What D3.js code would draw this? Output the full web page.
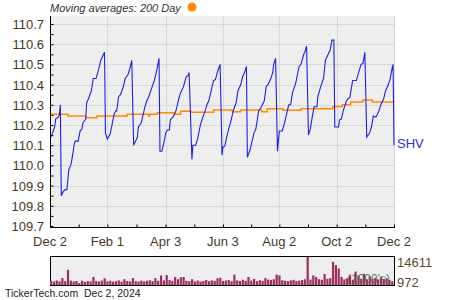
<!DOCTYPE html>
<html>
<head>
<meta charset="utf-8">
<script src="https://cdn.jsdelivr.net/npm/d3@7"></script>
<style>
  body { margin: 0; background: #fff; }
  svg { display: block; font-family: Arial, "Liberation Sans", sans-serif; }
</style>
</head>
<body>
<div id="chart"></div>
<script>
// SHV Kurs (Tagesschluss)
const priceDates = [
  "2023-12-03","2023-12-07","2023-12-08","2023-12-11","2023-12-12","2023-12-13","2023-12-14","2023-12-16","2023-12-18","2023-12-20",
  "2023-12-22","2023-12-24","2023-12-25","2023-12-28","2023-12-29","2024-01-01","2024-01-03","2024-01-05","2024-01-06","2024-01-09",
  "2024-01-10","2024-01-12","2024-01-15","2024-01-17","2024-01-20","2024-01-23","2024-01-25","2024-01-27","2024-01-29","2024-01-30",
  "2024-02-01","2024-02-04","2024-02-06","2024-02-08","2024-02-10","2024-02-11","2024-02-13","2024-02-15","2024-02-18","2024-02-20",
  "2024-02-23","2024-02-25","2024-02-27","2024-02-29","2024-03-02","2024-03-04","2024-03-05","2024-03-08","2024-03-12","2024-03-14",
  "2024-03-16","2024-03-19","2024-03-22","2024-03-23","2024-03-25","2024-03-27","2024-03-28","2024-03-30","2024-04-02","2024-04-03",
  "2024-04-05","2024-04-07","2024-04-08","2024-04-11","2024-04-14","2024-04-17","2024-04-19","2024-04-22","2024-04-25","2024-04-27",
  "2024-04-28","2024-05-01","2024-05-02","2024-05-05","2024-05-07","2024-05-10","2024-05-12","2024-05-15","2024-05-17","2024-05-19",
  "2024-05-22","2024-05-24","2024-05-26","2024-05-28","2024-05-31","2024-06-02","2024-06-03","2024-06-05","2024-06-07","2024-06-09",
  "2024-06-11","2024-06-14","2024-06-17","2024-06-19","2024-06-22","2024-06-24","2024-06-26","2024-06-28","2024-06-29","2024-07-02",
  "2024-07-04","2024-07-06","2024-07-08","2024-07-11","2024-07-14","2024-07-17","2024-07-19","2024-07-21","2024-07-24","2024-07-26",
  "2024-07-27","2024-07-29","2024-07-31","2024-08-02","2024-08-05","2024-08-07","2024-08-10","2024-08-12","2024-08-14","2024-08-16",
  "2024-08-19","2024-08-20","2024-08-23","2024-08-25","2024-08-28","2024-08-29","2024-08-31","2024-09-02","2024-09-04","2024-09-06",
  "2024-09-08","2024-09-11","2024-09-12","2024-09-15","2024-09-18","2024-09-20","2024-09-22","2024-09-25","2024-09-27","2024-09-29",
  "2024-09-30","2024-10-04","2024-10-05","2024-10-07","2024-10-09","2024-10-12","2024-10-14","2024-10-16","2024-10-19","2024-10-23",
  "2024-10-26","2024-10-28","2024-10-30","2024-11-01","2024-11-03","2024-11-06","2024-11-08","2024-11-10","2024-11-12","2024-11-13",
  "2024-11-16","2024-11-18","2024-11-21","2024-11-23","2024-11-26","2024-11-28","2024-11-30","2024-12-01","2024-12-02"
];
const priceValues = [
  110.14,110.19,110.23,110.24,110.25,110.30,109.85,109.87,109.88,109.88,
  109.98,110.00,110.02,110.11,110.12,110.12,110.17,110.18,110.21,110.23,
  110.31,110.33,110.37,110.43,110.43,110.48,110.52,110.54,110.56,110.16,
  110.13,110.155,110.20,110.25,110.27,110.27,110.34,110.35,110.39,110.43,
  110.45,110.48,110.52,110.10,110.12,110.14,110.19,110.21,110.29,110.32,
  110.34,110.38,110.42,110.44,110.48,110.53,110.07,110.07,110.13,110.16,
  110.175,110.175,110.225,110.24,110.27,110.33,110.36,110.39,110.44,110.445,
  110.46,110.03,110.10,110.10,110.13,110.20,110.23,110.27,110.30,110.32,
  110.38,110.42,110.425,110.46,110.50,110.05,110.09,110.095,110.14,110.18,
  110.21,110.27,110.31,110.37,110.40,110.44,110.46,110.49,110.04,110.08,
  110.12,110.16,110.18,110.27,110.29,110.32,110.39,110.40,110.43,110.46,
  110.50,110.53,110.07,110.17,110.17,110.20,110.26,110.30,110.30,110.36,
  110.40,110.42,110.49,110.50,110.55,110.56,110.59,110.15,110.18,110.24,
  110.29,110.29,110.34,110.39,110.43,110.52,110.54,110.57,110.62,110.62,
  110.19,110.19,110.225,110.23,110.27,110.315,110.33,110.335,110.42,110.42,
  110.47,110.50,110.505,110.56,110.14,110.16,110.19,110.245,110.24,110.24,
  110.27,110.30,110.33,110.37,110.40,110.43,110.48,110.50,110.10
];

// 200-Tage-Durchschnitt (Stufen)
const maDates = [
  "2023-12-03","2023-12-21","2024-01-09","2024-01-21","2024-02-22","2024-03-16","2024-03-17","2024-03-25",
  "2024-04-12","2024-04-19","2024-04-30","2024-05-24","2024-06-13","2024-06-22","2024-07-14","2024-07-20",
  "2024-08-06","2024-08-25","2024-09-28","2024-10-08","2024-10-17","2024-10-30","2024-11-09","2024-12-02"
];
const maValues = [
  110.253,110.245,110.236,110.245,110.253,110.245,110.253,110.261,
  110.253,110.268,110.263,110.274,110.265,110.274,110.265,110.281,
  110.273,110.281,110.291,110.300,110.314,110.324,110.314,110.314
];

// Volumen in Tausend, je 3 Kalendertage ab 2. Dez 2023
const volumeValues = [
  2200,1800,2400,1900,3600,2000,7900,2300,1800,2100,
  972,2200,1600,2000,1900,4200,2100,1800,2300,3500,
  1900,2200,1700,2000,2400,1800,3000,2100,1900,3600,
  2000,1700,2300,1900,2200,2500,2000,3600,2200,5000,
  2400,5200,2600,2100,4200,3000,4000,4200,2200,2000,
  3000,1900,2300,1800,2100,2600,2000,2400,2200,3500,
  3800,2100,2300,2600,2000,5400,2400,2100,2700,2200,
  4200,2300,3200,2000,2500,2200,3600,2800,2600,3000,
  5400,5000,2500,2200,2000,2400,2700,2100,2300,2600,
  3000,14611,2800,5000,4200,3000,2700,5800,3200,3600,
  12100,10400,8600,4200,3000,3500,5000,2800,7000,5000,
  3300,5800,3000,4500,3200,3800,2900,4200,3100,3600,
  2600,2000
];

const xTickDates = ["2023-12-02","2024-02-01","2024-04-03","2024-06-03","2024-08-02","2024-10-02","2024-12-02"];
const xTickLabels = ["Dec 2","Feb 1","Apr 3","Jun 3","Aug 2","Oct 2","Dec 2"];
const yTicks = [109.7,109.8,109.9,110.0,110.1,110.2,110.3,110.4,110.5,110.6,110.7];

const parse = d3.timeParse("%Y-%m-%d");
const price = priceDates.map((d, i) => ({date: parse(d), v: priceValues[i]}));
const ma = maDates.map((d, i) => ({date: parse(d), v: maValues[i]}));
const start = parse("2023-12-02"), end = parse("2024-12-02");
const volume = volumeValues.map((v, i) => ({date: d3.timeDay.offset(start, i * 3), v: v}));

const W = 450, H = 300;
const pL = 50, pR = 395, pT = 16, pB = 227;
const textCol = "#45391f";

const svg = d3.select("#chart").append("svg").attr("width", W).attr("height", H);

const x = d3.scaleTime().domain([start, end]).range([pL, pR - 1]);
const y = d3.scaleLinear().domain([109.7, 110.7]).range([226, 24]);

// Hintergrund
svg.append("rect").attr("x", pL).attr("y", pT).attr("width", pR - pL).attr("height", pB - pT)
  .attr("fill", "#eeeeee");

// Gitter
svg.append("g").selectAll("line").data(yTicks.slice(1)).join("line")
  .attr("x1", pL).attr("x2", pR).attr("y1", d => Math.round(y(d)) + 0.5).attr("y2", d => Math.round(y(d)) + 0.5)
  .attr("stroke", "#d9d9d9");
svg.append("g").selectAll("line").data(xTickDates.slice(1)).join("line")
  .attr("x1", d => Math.round(x(parse(d))) + 0.5).attr("x2", d => Math.round(x(parse(d))) + 0.5)
  .attr("y1", pT).attr("y2", pB)
  .attr("stroke", "#d9d9d9");

// Achsen
const yAxis = d3.axisRight(y).tickValues(d3.range(0, 21).map(i => 109.7 + i * 0.05)).tickSize(3).tickFormat("");
const gy = svg.append("g").attr("transform", `translate(${pL + 0.5},0)`).call(yAxis);
gy.select(".domain").remove();
svg.append("line").attr("x1", pL + 0.5).attr("x2", pL + 0.5).attr("y1", pT).attr("y2", pB + 0.5)
  .attr("stroke", "#000");
svg.append("g").selectAll("text").data(yTicks).join("text")
  .attr("x", 44).attr("y", d => y(d) + 5)
  .attr("text-anchor", "end").attr("font-size", 13).attr("fill", textCol)
  .text(d => d.toFixed(1));

const minorX = [];
for (let i = 0; i < xTickDates.length - 1; i++) {
  const a = parse(xTickDates[i]), b = parse(xTickDates[i + 1]);
  minorX.push(new Date((+a + +b) / 2));
}
const xAxis = d3.axisTop(x).tickValues(xTickDates.map(parse).concat(minorX)).tickSize(3).tickFormat("");
const gx = svg.append("g").attr("transform", `translate(0,${pB + 0.5})`).call(xAxis);
gx.select(".domain").remove();
svg.append("line").attr("x1", pL).attr("x2", pR).attr("y1", pB + 0.5).attr("y2", pB + 0.5)
  .attr("stroke", "#000");
svg.append("g").selectAll("text").data(xTickDates).join("text")
  .attr("x", d => x(parse(d))).attr("y", 246)
  .attr("text-anchor", "middle").attr("font-size", 13).attr("fill", textCol)
  .text((d, i) => xTickLabels[i]);

// Linien
svg.append("path").datum(ma)
  .attr("fill", "none").attr("stroke", "#ff8c00").attr("stroke-width", 1.5)
  .attr("d", d3.line().x(d => x(d.date)).y(d => y(d.v)).curve(d3.curveStepAfter));
svg.append("path").datum(price)
  .attr("fill", "none").attr("stroke", "#1f1fe6").attr("stroke-width", 1.1)
  .attr("d", d3.line().x(d => x(d.date)).y(d => y(d.v)));

svg.append("text").attr("x", 397).attr("y", 148)
  .attr("font-size", 13).attr("fill", "#2a2ae0").text("SHV");

// Titel
svg.append("text").attr("x", 50).attr("y", 12)
  .attr("font-size", 11).attr("font-style", "italic").attr("fill", "#333").text("Moving averages: 200 Day");
svg.append("circle").attr("cx", 192).attr("cy", 7).attr("r", 4.5).attr("fill", "#ff8c00");

// Volumen
const vTop = 256, vBot = 285;
const vy = d3.scaleLinear().domain([0, d3.max(volumeValues)]).range([vBot, vTop + 1]);
svg.append("rect").attr("x", pL + 0.5).attr("y", vTop + 0.5).attr("width", pR - pL - 1).attr("height", vBot - vTop)
  .attr("fill", "#eeeeee").attr("stroke", "#000");
svg.append("g").selectAll("rect").data(volume).join("rect")
  .attr("x", d => x(d.date)).attr("width", 2.2)
  .attr("y", d => vy(d.v)).attr("height", d => vBot - vy(d.v))
  .attr("fill", "#9b2f62");
svg.append("text").attr("x", 347).attr("y", 283)
  .attr("font-size", 12).attr("fill", "#3f6a4a").attr("fill-opacity", 0.85).text("(1000's)");
svg.append("text").attr("x", 397).attr("y", 267)
  .attr("font-size", 13).attr("fill", "#5a4a2c").text(d3.max(volumeValues));
svg.append("text").attr("x", 397).attr("y", 287)
  .attr("font-size", 13).attr("fill", "#5a4a2c").text(d3.min(volumeValues));

// Fußzeile
svg.append("text").attr("x", 5).attr("y", 297)
  .attr("font-size", 10.5).attr("fill", "#222").attr("xml:space", "preserve").text("TickerTech.com  Dec 2, 2024");
</script>
</body>
</html>
